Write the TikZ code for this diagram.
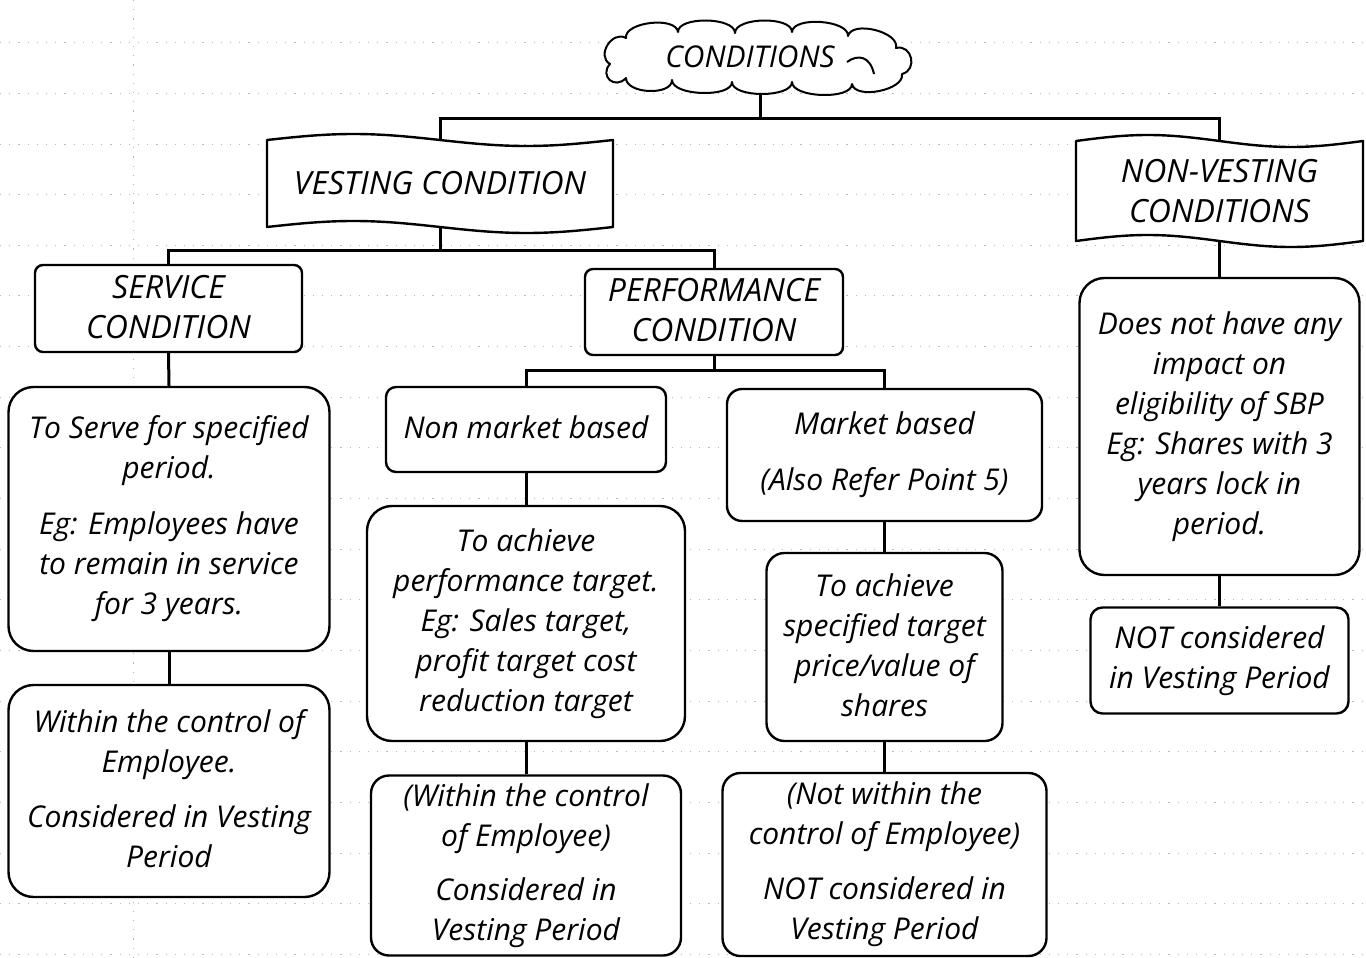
\documentclass[tikz,border=0pt]{standalone}
\usepackage{fontspec}
\setmainfont{Open Sans}

% wavy banner outline: x-left, x-right, top mean, bottom mean, amplitude
\newcommand\wavebanner[5]{%
  \draw[bannerline]
    plot[domain=#1:#2, samples=60, smooth] (\x, {#3 - #5*sin(((\x-#1)/(#2-#1))*360)})
    -- plot[domain=#2:#1, samples=60, smooth] (\x, {#4 - #5*sin(((\x-#1)/(#2-#1))*360)})
    -- cycle;}
% fixed height above the first baseline and depth below the last one
\newcommand\topstrut{\rule{0pt}{22pt}}
\newcommand\botstrut{\rule[-4pt]{0pt}{4pt}}

\begin{document}
\begin{tikzpicture}[x=1pt, y=-1pt,
  txt/.style={font=\itshape\fontsize{30}{40}\selectfont, align=center},
  caps/.style={font=\itshape\fontsize{32}{40}\selectfont},
  box/.style={txt, draw, fill=white, line width=2.4pt, inner sep=0pt,
              execute at begin node=\topstrut, execute at end node=\botstrut},
  edge/.style={line width=3pt},
  gridline/.style={gray!55, line width=0.9pt, dash pattern=on 1.2pt off 8pt},
  bannerline/.style={draw, fill=white, line width=2.4pt, line join=round},
  cloudline/.style={draw, fill=white, line width=2pt, line join=round},
]
\useasboundingbox (0,0) rectangle (1366,958);

% faint sheet gridlines in the background
\foreach \r in {42,93,144,194,245,295,346,397,447,498,549,599,650,701,751,802,853,903,954}
  \draw[gridline] (0,\r) -- (1366,\r);
\draw[gridline] (133,0) -- (133,958);

% title cloud: one puff between each pair of cusps
\draw[cloudline] (610,64)
  .. controls (596,56) and (612,30) .. (626,38)
  .. controls (624,22) and (676,16) .. (678,32)
  .. controls (678,16) and (735,17) .. (735,33)
  .. controls (735,17) and (792,16) .. (792,32)
  .. controls (793,16) and (849,20) .. (848,36)
  .. controls (852,20) and (900,32) .. (896,48)
  .. controls (912,44) and (918,70) .. (902,74)
  .. controls (905,90) and (855,100) .. (852,84)
  .. controls (852,100) and (792,98) .. (792,82)
  .. controls (792,98) and (732,98) .. (732,82)
  .. controls (732,98) and (672,96) .. (672,80)
  .. controls (672,96) and (626,94) .. (626,78)
  .. controls (615,90) and (599,76) .. (610,64) -- cycle;
\draw[line width=2pt] (847,62) .. controls (858,54) and (870,56) .. (874,74);
\node[txt, minimum width=300, minimum height=76, inner sep=0pt] (cond) at (760,57) {CONDITIONS\hspace*{20pt}};

% wavy banners
\wavebanner{267}{613}{140}{227}{6}
\node[txt, caps, minimum width=346, minimum height=87, inner sep=0pt] (vest) at (440,183.5) {VESTING CONDITION};
\wavebanner{1076}{1363}{141}{241}{6}
\node[txt, caps, minimum width=287, minimum height=100, inner sep=0pt] (nonvest) at (1219.5,191) {NON-VESTING\\CONDITIONS};

% service branch
\node[box, caps, rounded corners=8, minimum width=267, minimum height=87] (serv) at (168.5,308.5) {SERVICE\\CONDITION};
\node[box, rounded corners=25, minimum width=321, minimum height=264] (serve) at (169,519)
  {To Serve for specified\\period.\\[16pt]Eg: Employees have\\to remain in service\\for 3 years.};
\node[box, rounded corners=25, minimum width=321, minimum height=212] (within1) at (169,791)
  {Within the control of\\Employee.\\[15pt]Considered in Vesting\\Period};

% performance branch
\node[box, caps, rounded corners=8, minimum width=258, minimum height=86] (perf) at (714,312) {PERFORMANCE\\CONDITION};
\node[box, rounded corners=10, minimum width=280, minimum height=85] (nonmkt) at (526,429.5) {Non market based};
\node[box, rounded corners=15, minimum width=315, minimum height=132] (mkt) at (884.5,455) {Market based\\[16pt](Also Refer Point 5)};
\node[box, rounded corners=25, minimum width=318, minimum height=235] (ach1) at (526,623.5)
  {To achieve\\performance target.\\Eg: Sales target,\\profit target cost\\reduction target};
\node[box, rounded corners=18, minimum width=310, minimum height=180] (within2) at (526,865.5)
  {(Within the control\\of Employee)\\[14pt]Considered in\\Vesting Period};
\node[box, rounded corners=18, minimum width=236, minimum height=188] (ach2) at (884.5,647)
  {To achieve\\specified target\\price/value of\\shares};
\node[box, rounded corners=18, minimum width=324, minimum height=183] (notwithin) at (884.5,864.5)
  {(Not within the\\control of Employee)\\[15pt]NOT considered in\\Vesting Period};

% non-vesting branch
\node[box, rounded corners=25, minimum width=280, minimum height=297] (doesnot) at (1219.5,426.5)
  {Does not have any\\impact on\\eligibility of SBP\\Eg: Shares with 3\\years lock in\\period.};
\node[box, rounded corners=12, minimum width=258, minimum height=106] (notcons) at (1219.5,660.5)
  {NOT considered\\in Vesting Period};

% junction points of the tree
\coordinate (j1) at (760,118);
\coordinate (j2) at (440,250);
\coordinate (j3) at (714,370);

% connectors
\draw[edge] (cond.south) -- (j1);
\draw[edge] (vest.north) |- (j1) -| (nonvest.north);
\draw[edge] (vest.south) -- (j2);
\draw[edge] (serv.north) |- (j2) -| (perf.north);
\draw[edge] (serv.south) -- (serve.north);
\draw[edge] (serve.south) -- (within1.north);
\draw[edge] (perf.south) -- (j3);
\draw[edge] (nonmkt.north) |- (j3) -| (mkt.north);
\draw[edge] (nonmkt.south) -- (ach1.north);
\draw[edge] (ach1.south) -- (within2.north);
\draw[edge] (mkt.south) -- (ach2.north);
\draw[edge] (ach2.south) -- (notwithin.north);
\draw[edge] (nonvest.south) -- (doesnot.north);
\draw[edge] (doesnot.south) -- (notcons.north);
\end{tikzpicture}
\end{document}
